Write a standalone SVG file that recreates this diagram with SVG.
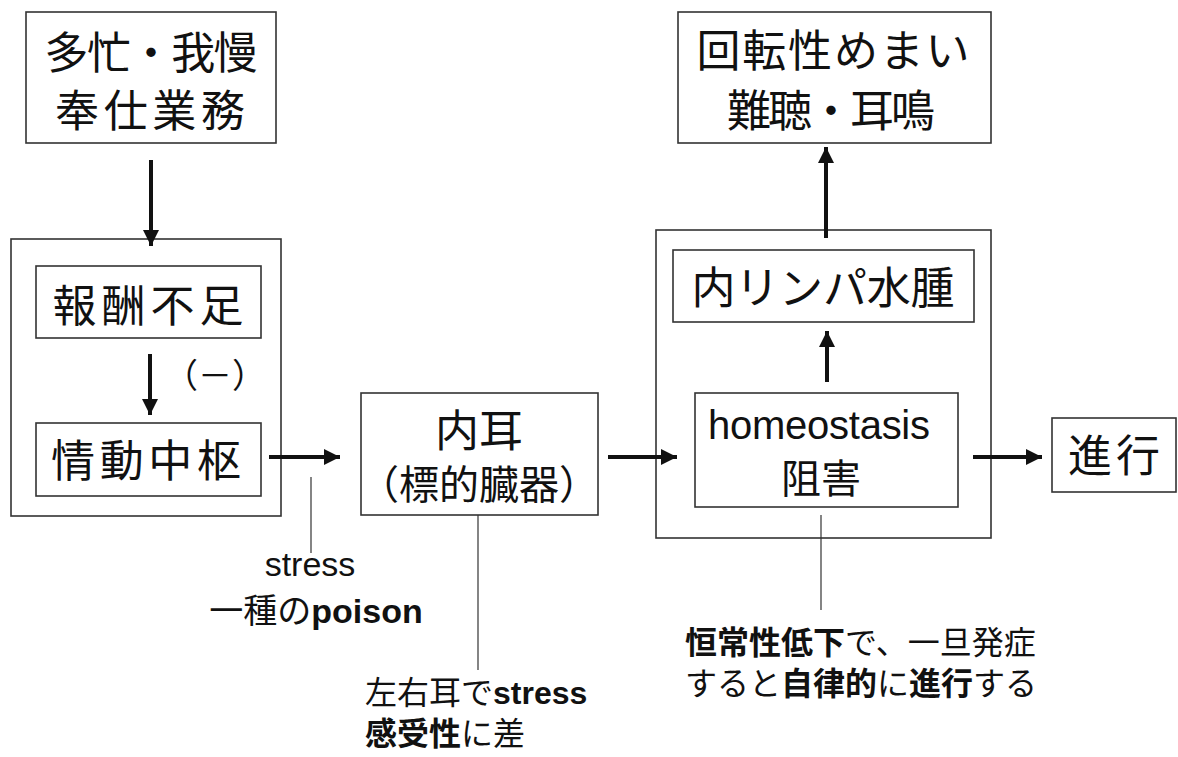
<svg xmlns="http://www.w3.org/2000/svg" width="1178" height="757" viewBox="0 0 1178 757">
<defs>
<style>
.box{fill:#fff;stroke:#333;stroke-width:1.6}
.t{font-family:"Liberation Sans","Noto Sans CJK JP",sans-serif;fill:#111}
.j{font-family:"Noto Sans CJK JP",sans-serif;fill:#111}
.c44{font-size:44px;text-anchor:middle}
.c40{font-size:40px;text-anchor:middle}
.s32{font-size:32px}
.b{font-weight:bold}
.arr{stroke:#111;stroke-width:4;fill:none;marker-end:url(#ah)}
.lead{stroke:#333;stroke-width:1.2;fill:none}
</style>
<marker id="ah" markerUnits="userSpaceOnUse" markerWidth="18" markerHeight="16" refX="16" refY="8" orient="auto">
<path d="M0,0 L16,8 L0,16 Z" fill="#111"/>
</marker>
</defs>

<g id="n-tabou">
<rect class="box" x="26" y="12" width="250" height="131"/>
<text class="t c44" x="151" y="69" textLength="213">多忙・我慢</text>
<text class="t c44" x="150" y="127" textLength="190">奉仕業務</text>
</g>

<g id="n-left-outer">
<rect class="box" x="11" y="239" width="270" height="277"/>
</g>

<g id="n-housyu">
<rect class="box" x="36" y="266" width="225" height="72"/>
<text class="t c44" x="148" y="322" textLength="191">報酬不足</text>
</g>

<g id="n-minus">
<text class="j" x="215" y="388" font-size="34" text-anchor="middle">（－）</text>
</g>

<g id="n-joudou">
<rect class="box" x="36" y="423" width="225" height="73"/>
<text class="t c44" x="146" y="477" textLength="190">情動中枢</text>
</g>

<g id="n-naiji">
<rect class="box" x="361" y="393" width="237" height="122"/>
<text class="t c44" x="479" y="447">内耳</text>
<text class="j c40" x="479" y="499">（標的臓器）</text>
</g>

<g id="n-right-outer">
<rect class="box" x="656" y="230" width="335" height="308"/>
</g>

<g id="n-suishu">
<rect class="box" x="673" y="250" width="301" height="72"/>
<text class="t c44" x="823" y="304" textLength="263">内リンパ水腫</text>
</g>

<g id="n-homeo">
<rect class="box" x="695" y="393" width="263" height="114"/>
<text class="t c40" x="819" y="439" textLength="222">homeostasis</text>
<text class="t c40" x="821" y="493">阻害</text>
</g>

<g id="n-memai">
<rect class="box" x="678" y="12" width="313" height="131"/>
<text class="t c44" x="833" y="67" textLength="273">回転性めまい</text>
<text class="t c44" x="831" y="127" textLength="208">難聴・耳鳴</text>
</g>

<g id="n-shinkou">
<rect class="box" x="1052" y="418" width="124" height="74"/>
<text class="t c44" x="1114" y="472" textLength="92">進行</text>
</g>

<g id="n-stress-note">
<text class="t" x="310" y="576" font-size="34" text-anchor="middle">stress</text>
<text class="t" x="316" y="623" font-size="34" text-anchor="middle">一種の<tspan class="b">poison</tspan></text>
</g>

<g id="n-naiji-note">
<text class="t s32" x="365" y="704">左右耳で<tspan class="b">stress</tspan></text>
<text class="t s32" x="365" y="745"><tspan class="b">感受性</tspan>に差</text>
</g>

<g id="n-homeo-note">
<text class="t s32" x="685" y="654"><tspan class="b">恒常性低下</tspan>で、一旦発症</text>
<text class="t s32" x="685" y="695">すると<tspan class="b">自律的</tspan>に<tspan class="b">進行</tspan>する</text>
</g>

<g id="connectors">
<line class="arr" x1="151" y1="160" x2="151" y2="246"/>
<line class="arr" x1="150" y1="354" x2="150" y2="415"/>
<line class="arr" x1="269" y1="457" x2="340" y2="457"/>
<line class="arr" x1="608" y1="457" x2="677" y2="457"/>
<line class="arr" x1="827" y1="382" x2="827" y2="331"/>
<line class="arr" x1="826" y1="238" x2="826" y2="147"/>
<line class="arr" x1="973" y1="457" x2="1042" y2="457"/>
<line class="lead" x1="311" y1="477" x2="311" y2="553"/>
<line class="lead" x1="478" y1="515" x2="478" y2="670"/>
<line class="lead" x1="821" y1="515" x2="821" y2="610"/>
</g>
</svg>
